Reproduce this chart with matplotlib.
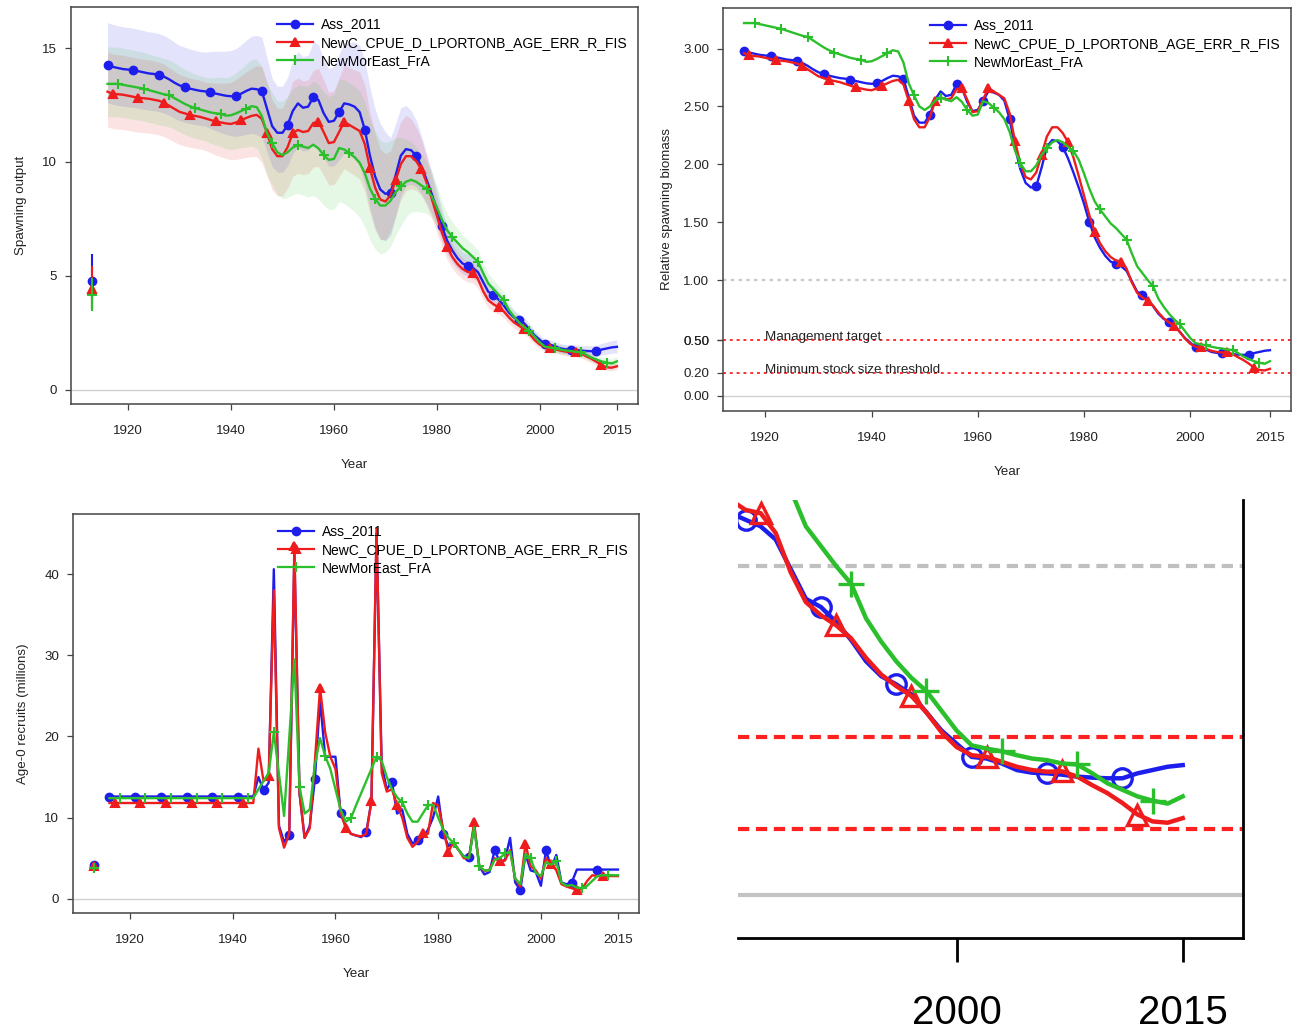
import matplotlib
matplotlib.use('Agg')
import matplotlib.pyplot as plt
from matplotlib.lines import Line2D
import numpy as np

plt.rcParams['font.family'] = ['Liberation Sans', 'DejaVu Sans']

# modelos comparados
model_names = ['Ass_2011', 'NewC_CPUE_D_LPORTONB_AGE_ERR_R_FIS', 'NewMorEast_FrA']
colors = ['#1e1eec', '#ee1c1c', '#2cbf2c']
markers = ['o', '^', '+']

years = np.arange(1916, 2016)
virgin_year = 1913

# spawning output virgem (com intervalo) e recrutamento virgem
ssb0 = [4.78, 4.42, 4.17]
ssb0_lo = [3.60, 3.50, 3.46]
ssb0_hi = [5.95, 5.44, 4.90]
rec0 = [4.2, 4.1, 3.8]

# biomassa desovante relativa (SSB / SSB0), 1916-2015
depl_ass = [2.98, 2.965, 2.955, 2.945, 2.94, 2.935, 2.925, 2.915, 2.905, 2.90,
            2.89, 2.875, 2.85, 2.82, 2.795, 2.78, 2.765, 2.755, 2.745, 2.74,
            2.73, 2.72, 2.71, 2.70, 2.695, 2.70, 2.72, 2.745, 2.765, 2.76,
            2.74, 2.58, 2.42, 2.36, 2.36, 2.43, 2.56, 2.63, 2.59, 2.60,
            2.69, 2.66, 2.54, 2.46, 2.47, 2.55, 2.63, 2.62, 2.60, 2.55,
            2.39, 2.15, 1.96, 1.84, 1.80, 1.81, 1.97, 2.15, 2.21, 2.20,
            2.15, 2.05, 1.93, 1.80, 1.66, 1.50, 1.37, 1.28, 1.21, 1.16,
            1.14, 1.12, 1.08, 0.99, 0.90, 0.875, 0.83, 0.775, 0.71, 0.665,
            0.64, 0.61, 0.555, 0.50, 0.46, 0.42, 0.415, 0.40, 0.38, 0.372,
            0.37, 0.366, 0.36, 0.357, 0.355, 0.355, 0.37, 0.38, 0.39, 0.395]
depl_newc = [2.96, 2.94, 2.935, 2.93, 2.92, 2.91, 2.90, 2.895, 2.89, 2.88,
             2.87, 2.85, 2.82, 2.79, 2.76, 2.745, 2.73, 2.72, 2.71, 2.695,
             2.68, 2.665, 2.655, 2.645, 2.64, 2.655, 2.68, 2.70, 2.72, 2.73,
             2.69, 2.55, 2.39, 2.32, 2.32, 2.41, 2.55, 2.58, 2.56, 2.57,
             2.65, 2.66, 2.56, 2.45, 2.46, 2.56, 2.66, 2.63, 2.60, 2.57,
             2.44, 2.20, 2.01, 1.89, 1.87, 1.93, 2.08, 2.24, 2.32, 2.32,
             2.27, 2.19, 2.06, 1.90, 1.73, 1.56, 1.42, 1.32, 1.25, 1.20,
             1.17, 1.16, 1.10, 0.98, 0.89, 0.85, 0.82, 0.78, 0.72, 0.67,
             0.635, 0.605, 0.555, 0.495, 0.45, 0.425, 0.42, 0.405, 0.39, 0.38,
             0.375, 0.376, 0.36, 0.334, 0.31, 0.28, 0.245, 0.224, 0.22, 0.234]
depl_mor = [3.22, 3.22, 3.22, 3.21, 3.20, 3.19, 3.18, 3.17, 3.155, 3.14,
            3.125, 3.11, 3.10, 3.07, 3.04, 3.01, 2.985, 2.965, 2.95, 2.935,
            2.92, 2.91, 2.905, 2.885, 2.89, 2.91, 2.935, 2.96, 2.985, 2.975,
            2.88, 2.70, 2.595, 2.50, 2.47, 2.50, 2.55, 2.575, 2.56, 2.545,
            2.58, 2.54, 2.47, 2.42, 2.43, 2.545, 2.53, 2.49, 2.45, 2.39,
            2.28, 2.12, 2.01, 1.94, 1.94, 1.99, 2.08, 2.14, 2.19, 2.21,
            2.19, 2.15, 2.115, 2.04, 1.92, 1.79, 1.68, 1.61, 1.55, 1.49,
            1.45, 1.40, 1.35, 1.23, 1.12, 1.06, 1.00, 0.946, 0.84, 0.77,
            0.71, 0.66, 0.62, 0.56, 0.50, 0.455, 0.445, 0.437, 0.425, 0.415,
            0.41, 0.40, 0.397, 0.37, 0.34, 0.32, 0.30, 0.287, 0.278, 0.30]

# desvio (escala log) do spawning output, para as faixas de incerteza
sd_ass = [0.063, 0.063, 0.063, 0.063, 0.063, 0.063, 0.063, 0.063, 0.063, 0.063,
          0.063, 0.063, 0.063, 0.063, 0.063, 0.063, 0.063, 0.063, 0.063, 0.063,
          0.066, 0.068, 0.070, 0.072, 0.074, 0.076, 0.078, 0.080, 0.082, 0.084,
          0.085, 0.085, 0.085, 0.085, 0.085, 0.085, 0.085, 0.085, 0.085, 0.085,
          0.088, 0.090, 0.090, 0.092, 0.094, 0.096, 0.098, 0.100, 0.105, 0.110,
          0.120, 0.130, 0.140, 0.145, 0.140, 0.125, 0.110, 0.095, 0.085, 0.078,
          0.072, 0.066, 0.060, 0.055, 0.052, 0.050, 0.048, 0.046, 0.045, 0.045,
          0.045, 0.045, 0.045, 0.045, 0.045, 0.045, 0.045, 0.045, 0.045, 0.045,
          0.045, 0.045, 0.046, 0.047, 0.048, 0.050, 0.052, 0.054, 0.056, 0.058,
          0.060, 0.062, 0.064, 0.066, 0.068, 0.070, 0.072, 0.074, 0.076, 0.078]
sd_newc = [0.064, 0.064, 0.064, 0.064, 0.064, 0.064, 0.064, 0.064, 0.064, 0.064,
           0.064, 0.064, 0.064, 0.064, 0.064, 0.064, 0.064, 0.064, 0.064, 0.064,
           0.066, 0.068, 0.070, 0.072, 0.074, 0.076, 0.078, 0.080, 0.082, 0.084,
           0.090, 0.093, 0.095, 0.095, 0.095, 0.095, 0.094, 0.093, 0.092, 0.092,
           0.092, 0.093, 0.094, 0.095, 0.096, 0.097, 0.098, 0.100, 0.102, 0.105,
           0.110, 0.115, 0.120, 0.120, 0.115, 0.105, 0.095, 0.088, 0.082, 0.076,
           0.070, 0.065, 0.060, 0.055, 0.052, 0.050, 0.048, 0.046, 0.045, 0.045,
           0.045, 0.045, 0.045, 0.045, 0.045, 0.045, 0.045, 0.045, 0.045, 0.045,
           0.045, 0.045, 0.046, 0.047, 0.048, 0.050, 0.052, 0.054, 0.056, 0.058,
           0.060, 0.062, 0.064, 0.066, 0.068, 0.070, 0.072, 0.074, 0.076, 0.078]
sd_mor = [0.058, 0.058, 0.058, 0.058, 0.058, 0.058, 0.058, 0.058, 0.058, 0.058,
          0.058, 0.058, 0.058, 0.058, 0.058, 0.058, 0.058, 0.058, 0.058, 0.058,
          0.060, 0.062, 0.064, 0.066, 0.068, 0.070, 0.072, 0.075, 0.078, 0.080,
          0.085, 0.090, 0.095, 0.100, 0.105, 0.108, 0.110, 0.112, 0.114, 0.116,
          0.118, 0.120, 0.122, 0.124, 0.126, 0.128, 0.130, 0.133, 0.136, 0.140,
          0.145, 0.150, 0.155, 0.155, 0.150, 0.140, 0.125, 0.110, 0.095, 0.085,
          0.078, 0.072, 0.066, 0.060, 0.056, 0.052, 0.050, 0.048, 0.046, 0.045,
          0.045, 0.045, 0.045, 0.045, 0.045, 0.045, 0.045, 0.045, 0.045, 0.045,
          0.045, 0.045, 0.046, 0.047, 0.048, 0.050, 0.052, 0.054, 0.056, 0.058,
          0.060, 0.062, 0.064, 0.066, 0.068, 0.070, 0.072, 0.074, 0.076, 0.078]

# recrutas idade-0 (milhoes), 1916-2015
rec_ass = [12.6, 12.6, 12.6, 12.6, 12.6, 12.6, 12.6, 12.6, 12.6, 12.6,
           12.6, 12.6, 12.6, 12.6, 12.6, 12.6, 12.6, 12.6, 12.6, 12.6,
           12.6, 12.6, 12.6, 12.6, 12.6, 12.6, 12.6, 12.6, 12.6, 15.0,
           13.4, 14.3, 40.6, 9.0, 7.0, 7.9, 42.5, 13.0, 7.5, 9.0,
           14.8, 24.5, 17.5, 17.5, 17.5, 10.6, 9.0, 8.0, 7.8, 7.6,
           8.2, 12.0, 45.0, 16.5, 13.5, 14.4, 10.5, 11.0, 8.0, 6.8,
           7.2, 7.5, 8.5, 10.0, 12.6, 8.0, 6.5, 6.8, 6.0, 5.2,
           5.1, 9.0, 4.0, 3.0, 3.3, 6.0, 4.5, 4.8, 7.5, 2.0,
           1.1, 5.5, 3.5, 3.3, 1.6, 6.0, 3.8, 5.4, 2.0, 1.8,
           2.0, 3.6, 3.6, 3.6, 3.6, 3.6, 3.6, 3.6, 3.6, 3.6]
rec_newc = [11.8, 11.8, 11.8, 11.8, 11.8, 11.8, 11.8, 11.8, 11.8, 11.8,
            11.8, 11.8, 11.8, 11.8, 11.8, 11.8, 11.8, 11.8, 11.8, 11.8,
            11.8, 11.8, 11.8, 11.8, 11.8, 11.8, 11.8, 11.8, 11.8, 18.5,
            14.5, 15.1, 38.0, 8.7, 6.3, 8.0, 43.5, 13.0, 7.5, 8.7,
            17.0, 26.0, 20.5, 17.5, 16.0, 10.6, 8.7, 8.0, 7.8, 7.7,
            8.0, 12.0, 45.6, 15.5, 13.2, 13.5, 11.5, 10.0, 7.5, 6.4,
            7.0, 8.1, 8.0, 11.8, 11.5, 8.5, 5.8, 7.0, 6.0, 5.0,
            5.0, 9.4, 4.0, 3.4, 3.6, 5.0, 4.6, 4.7, 6.0, 2.5,
            1.5, 6.8, 4.0, 3.5, 2.5, 5.0, 4.3, 3.5, 1.8, 1.5,
            1.3, 1.1, 1.2, 2.2, 2.9, 2.8, 2.8, 2.8, 2.8, 2.8]
rec_mor = [12.4, 12.4, 12.4, 12.4, 12.4, 12.4, 12.4, 12.4, 12.4, 12.4,
           12.4, 12.4, 12.4, 12.4, 12.4, 12.4, 12.4, 12.4, 12.4, 12.4,
           12.4, 12.4, 12.4, 12.4, 12.4, 12.4, 12.4, 12.4, 12.4, 13.5,
           14.5, 15.5, 20.5, 15.4, 10.2, 19.8, 29.5, 13.8, 10.5, 11.0,
           16.5, 19.8, 17.6, 16.0, 13.5, 11.0, 9.5, 9.9, 11.5, 13.0,
           14.5, 16.0, 17.5, 17.0, 15.0, 13.5, 12.5, 11.9, 10.5, 9.5,
           9.5, 10.5, 11.5, 11.6, 10.0, 8.5, 7.5, 6.9, 6.0, 5.2,
           5.0, 8.8, 4.0, 3.5, 3.5, 4.8, 5.0, 5.6, 5.8, 2.5,
           1.8, 5.5, 5.0, 3.2, 2.8, 4.5, 4.2, 4.6, 2.0, 1.6,
           1.7, 1.4, 1.3, 1.6, 2.2, 2.8, 2.9, 2.9, 2.9, 2.9]

depl = [np.array(depl_ass), np.array(depl_newc), np.array(depl_mor)]
sds = [np.array(sd_ass), np.array(sd_newc), np.array(sd_mor)]
recs = [rec_ass, rec_newc, rec_mor]

mgmt_target = 0.48
min_stock = 0.20

W, H = 1297, 1030
fig = plt.figure(figsize=(W / 100, H / 100), dpi=100)

def box(l, t, r, b):
    return [l / W, 1 - b / H, (r - l) / W, (b - t) / H]

txt_col = '#222222'
frame_col = '#444444'
fs = 9.6

def style_axes(ax, ylab, ylabpad):
    for s in ax.spines.values():
        s.set_color(frame_col)
        s.set_linewidth(1.1)
    ax.tick_params(axis='both', colors=frame_col, labelcolor=txt_col,
                   labelsize=fs, length=4, width=0.9)
    ax.tick_params(axis='x', pad=11)
    ax.tick_params(axis='y', pad=6)
    ax.set_xticks([1920, 1940, 1960, 1980, 2000, 2015])
    ax.set_xlabel('Year', fontsize=fs, color=txt_col, labelpad=16)
    ax.set_ylabel(ylab, fontsize=fs, color=txt_col, labelpad=ylabpad)
    handles = []
    for k in range(3):
        handles.append(Line2D([], [], color=colors[k], marker=markers[k], lw=1.6,
                              ms=7 if markers[k] == '+' else 5.5, mew=1.5))
    ax.legend(handles, model_names, loc='upper right', frameon=False,
              fontsize=10, numpoints=1, handlelength=2.6, handletextpad=0.55,
              labelspacing=0.32, borderaxespad=0.35)

# --- Spawning output ---
ax1 = fig.add_axes(box(71, 7, 638, 404))
ax1.axhline(0, color='#d0d0d0', lw=1)
for k in range(3):
    ssb = depl[k] * ssb0[k]
    ax1.fill_between(years, ssb * np.exp(-1.96 * sds[k]), ssb * np.exp(1.96 * sds[k]),
                     color=colors[k], alpha=0.12, lw=0)
for k in range(3):
    ssb = depl[k] * ssb0[k]
    ax1.plot(years, ssb, color=colors[k], lw=1.7, marker=markers[k],
             ms=7 if markers[k] == '+' else 5.5, mew=1.5, markevery=(k, 5))
    ax1.vlines(virgin_year, ssb0_lo[k], ssb0_hi[k], color=colors[k], lw=1.5)
    ax1.plot([virgin_year], [ssb0[k]], color=colors[k], marker=markers[k],
             ms=7 if markers[k] == '+' else 5.5, mew=1.5)
ax1.set_xlim(1908.9, 2019.1)
ax1.set_ylim(-0.62, 16.8)
ax1.set_yticks([0, 5, 10, 15])
style_axes(ax1, 'Spawning output', 11)

# --- Relative spawning biomass ---
ax2 = fig.add_axes(box(723, 8, 1291, 411))
ax2.axhline(0, color='#d0d0d0', lw=1)
ax2.axhline(1.0, color='#c8c8c8', lw=1.6, ls=(0, (1.5, 2)))
ax2.axhline(mgmt_target, color='#ff3030', lw=1.4, ls=(0, (1.5, 2)))
ax2.axhline(min_stock, color='#ff3030', lw=1.4, ls=(0, (1.5, 2)))
ax2.text(1920, mgmt_target + 0.025, 'Management target', fontsize=fs,
         color=txt_col, va='center', ha='left')
ax2.text(1920, min_stock + 0.025, 'Minimum stock size threshold', fontsize=fs,
         color=txt_col, va='center', ha='left')
for k in range(3):
    ax2.plot(years, depl[k], color=colors[k], lw=1.7, marker=markers[k],
             ms=7 if markers[k] == '+' else 5.5, mew=1.5, markevery=(k, 5))
ax2.set_xlim(1912.04, 2018.96)
ax2.set_ylim(-0.13, 3.35)
ax2.set_yticks([0, min_stock, mgmt_target, mgmt_target, 1.0, 1.5, 2.0, 2.5, 3.0],
               ['0.00', '0.20', '0.40', '0.50', '1.00', '1.50', '2.00', '2.50', '3.00'])
style_axes(ax2, 'Relative spawning biomass', 7)

# --- Recrutamento ---
ax3 = fig.add_axes(box(73, 514, 639, 913))
ax3.axhline(0, color='#d0d0d0', lw=1)
for k in range(3):
    ax3.plot(years, recs[k], color=colors[k], lw=1.7, marker=markers[k],
             ms=7 if markers[k] == '+' else 5.5, mew=1.5, markevery=(k, 5))
    ax3.plot([virgin_year], [rec0[k]], color=colors[k], marker=markers[k],
             ms=7 if markers[k] == '+' else 5.5, mew=1.5)
ax3.set_xlim(1908.9, 2019.1)
ax3.set_ylim(-1.75, 47.4)
ax3.set_yticks([0, 10, 20, 30, 40])
style_axes(ax3, 'Age-0 recruits (millions)', 11)

# --- Zoom nos anos recentes ---
ax4 = fig.add_axes(box(738, 500, 1243, 938))
ax4.axhline(0, color='#c4c4c4', lw=3)
ax4.axhline(1.0, color='#c0c0c0', lw=3, dashes=(2.7, 1.6))
ax4.axhline(mgmt_target, color='#ff2020', lw=3, dashes=(2.7, 1.6))
ax4.axhline(min_stock, color='#ff2020', lw=3, dashes=(2.7, 1.6))
big_ms = [14, 14, 19]
for k in range(3):
    ax4.plot(years, depl[k], color=colors[k], lw=3.2, marker=markers[k],
             ms=big_ms[k], mew=2.4, mfc='none', markevery=(k, 5))
ax4.set_xlim(1985.5, 2019.0)
ax4.set_ylim(-0.13, 1.20)
ax4.spines['left'].set_visible(False)
ax4.spines['top'].set_visible(False)
ax4.spines['bottom'].set_linewidth(2)
ax4.spines['right'].set_linewidth(2)
ax4.set_yticks([])
ax4.set_xticks([2000, 2015])
ax4.tick_params(axis='x', length=17, width=2, labelsize=29, pad=23)

fig.savefig('out.png', dpi=100)
